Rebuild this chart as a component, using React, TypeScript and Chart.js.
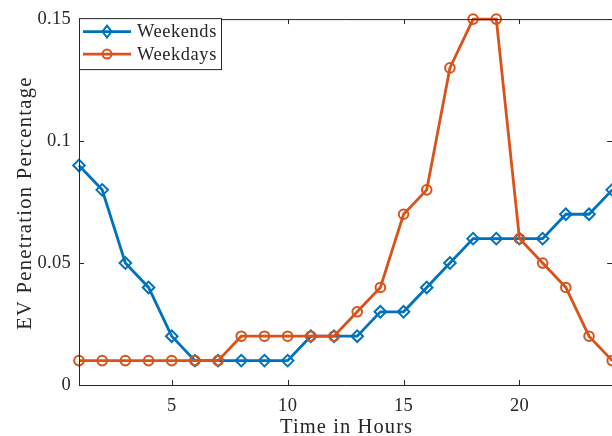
import React, { useEffect, useRef } from "react";
import { Chart, registerables } from "chart.js";

Chart.register(...registerables);

const hours = [1, 2, 3, 4, 5, 6, 7, 8, 9, 10, 11, 12, 13, 14, 15, 16, 17, 18, 19, 20, 21, 22, 23, 24];
const weekends = [0.09, 0.08, 0.05, 0.04, 0.02, 0.01, 0.01, 0.01, 0.01, 0.01, 0.02, 0.02, 0.02, 0.03, 0.03, 0.04, 0.05, 0.06, 0.06, 0.06, 0.06, 0.07, 0.07, 0.08];
const weekdays = [0.01, 0.01, 0.01, 0.01, 0.01, 0.01, 0.01, 0.02, 0.02, 0.02, 0.02, 0.02, 0.03, 0.04, 0.07, 0.08, 0.13, 0.15, 0.15, 0.06, 0.05, 0.04, 0.02, 0.01];
const xTicks = [5, 10, 15, 20];
const yTicks = [0, 0.05, 0.1, 0.15];
const yTickLabels = ["0", "0.05", "0.1", "0.15"];
const seriesNames = ["Weekends", "Weekdays"];
const xTitle = "Time in Hours";
const yTitle = "EV Penetration Percentage";

const BLUE = "#0072BD";
const ORANGE = "#D95319";
const AXIS = "#262626";
const FONT = "'Liberation Serif', 'Times New Roman', serif";
const LINE_W = 2.8;

const boxPlugin = {
  id: "matlabBox",
  beforeDraw(chart: any) {
    (chart.ctx as any).letterSpacing = "0.3px";
  },
  afterDraw(chart: any) {
    const { ctx, chartArea } = chart;
    const { left, right, top, bottom } = chartArea;
    const xs = chart.scales.x;
    const ys = chart.scales.y;
    ctx.save();
    ctx.strokeStyle = AXIS;
    ctx.lineWidth = 1;
    ctx.beginPath();
    ctx.moveTo(left + 0.5, top + 0.5);
    ctx.lineTo(right, top + 0.5);
    ctx.moveTo(left + 0.5, bottom + 0.5);
    ctx.lineTo(right, bottom + 0.5);
    ctx.moveTo(left + 0.5, top);
    ctx.lineTo(left + 0.5, bottom + 1);
    ctx.moveTo(right + 0.5, top);
    ctx.lineTo(right + 0.5, bottom + 1);
    const tl = 5;
    xTicks.forEach((v) => {
      const px = Math.round(xs.getPixelForValue(v)) + 0.5;
      ctx.moveTo(px, bottom);
      ctx.lineTo(px, bottom - tl);
      ctx.moveTo(px, top);
      ctx.lineTo(px, top + tl);
    });
    yTicks.forEach((v) => {
      const py = Math.round(ys.getPixelForValue(v)) + 0.5;
      ctx.moveTo(left, py);
      ctx.lineTo(left + tl, py);
      ctx.moveTo(right, py);
      ctx.lineTo(right - tl, py);
    });
    ctx.stroke();

    // axis titles
    ctx.fillStyle = AXIS;
    (ctx as any).letterSpacing = "1.1px";
    ctx.font = `20.5px ${FONT}`;
    ctx.textAlign = "center";
    ctx.textBaseline = "alphabetic";
    ctx.fillText(xTitle, (left + right) / 2 + 1, 433);
    ctx.save();
    ctx.translate(31, (top + bottom) / 2 + 1);
    ctx.rotate(-Math.PI / 2);
    (ctx as any).letterSpacing = "1.3px";
    ctx.fillText(yTitle, 0, 0);
    ctx.restore();

    // legend
    const lx = left;
    const ly = top - 1;
    const lw = 142;
    const lh = 51;
    ctx.fillStyle = "#ffffff";
    ctx.fillRect(lx, ly, lw, lh);
    ctx.strokeStyle = AXIS;
    ctx.lineWidth = 1;
    ctx.strokeRect(lx + 0.5, ly + 0.5, lw, lh);
    const rows = [
      { name: seriesNames[0], color: BLUE, style: "diamond", y: ly + 13.5 },
      { name: seriesNames[1], color: ORANGE, style: "circle", y: ly + 36 },
    ];
    rows.forEach((r) => {
      ctx.strokeStyle = r.color;
      ctx.lineWidth = LINE_W;
      ctx.beginPath();
      ctx.moveTo(lx + 4, r.y);
      ctx.lineTo(lx + 52, r.y);
      ctx.stroke();
      const cx = lx + 28;
      ctx.lineWidth = 2;
      ctx.beginPath();
      if (r.style === "diamond") {
        ctx.moveTo(cx, r.y - 6);
        ctx.lineTo(cx + 4.5, r.y);
        ctx.lineTo(cx, r.y + 6);
        ctx.lineTo(cx - 4.5, r.y);
        ctx.closePath();
      } else {
        ctx.arc(cx, r.y, 4.5, 0, Math.PI * 2);
      }
      ctx.stroke();
      ctx.fillStyle = AXIS;
      (ctx as any).letterSpacing = "0.6px";
      ctx.font = `18.4px ${FONT}`;
      ctx.textBaseline = "middle";
      ctx.textAlign = "left";
      ctx.fillText(r.name, lx + 58, r.y + 1);
    });
    ctx.restore();
  },
};

export default function App() {
  const ref = useRef<HTMLCanvasElement | null>(null);
  useEffect(() => {
    if (!ref.current) return;
    const chart = new Chart(ref.current, {
      type: "line",
      data: {
        labels: hours,
        datasets: [
          {
            label: seriesNames[1],
            data: hours.map((h, i) => ({ x: h, y: weekdays[i] })),
            borderColor: ORANGE,
            backgroundColor: "rgba(0,0,0,0)",
            borderWidth: LINE_W,
            pointStyle: "circle",
            pointRadius: 4.8,
            pointBorderWidth: 2,
            pointBorderColor: ORANGE,
            pointBackgroundColor: "rgba(0,0,0,0)",
            tension: 0,
            clip: false as any,
          },
          {
            label: seriesNames[0],
            data: hours.map((h, i) => ({ x: h, y: weekends[i] })),
            borderColor: BLUE,
            backgroundColor: "rgba(0,0,0,0)",
            borderWidth: LINE_W,
            pointStyle: "rectRot",
            pointRadius: 5.8,
            pointBorderWidth: 2,
            pointBorderColor: BLUE,
            pointBackgroundColor: "rgba(0,0,0,0)",
            tension: 0,
            clip: false as any,
          },
        ],
      },
      options: {
        animation: false,
        responsive: false,
        devicePixelRatio: 1,
        layout: { padding: { top: 18, right: 7, left: 0, bottom: 0 } },
        plugins: {
          legend: { display: false },
          tooltip: { enabled: false },
        },
        scales: {
          x: {
            type: "linear",
            min: 1,
            max: 24,
            grid: { display: false, drawTicks: false, tickLength: 0 },
            border: { display: false },
            afterBuildTicks: (s: any) => {
              s.ticks = xTicks.map((v) => ({ value: v }));
            },
            afterFit: (s: any) => {
              s.height = 51;
            },
            ticks: {
              color: AXIS,
              font: { family: FONT, size: 18.5 },
              padding: 10,
              maxRotation: 0,
              autoSkip: false,
            },
            title: { display: false },
          },
          y: {
            type: "linear",
            min: 0,
            max: 0.15,
            grid: { display: false, drawTicks: false, tickLength: 0 },
            border: { display: false },
            afterBuildTicks: (s: any) => {
              s.ticks = yTicks.map((v) => ({ value: v }));
            },
            afterFit: (s: any) => {
              s.width = 79;
            },
            ticks: {
              color: AXIS,
              font: { family: FONT, size: 18.5 },
              padding: 8,
              autoSkip: false,
              callback: (v: any) => {
                const i = yTicks.findIndex((t) => Math.abs(t - v) < 1e-9);
                return i >= 0 ? yTickLabels[i] : "";
              },
            },
            title: { display: false },
          },
        },
      },
      plugins: [boxPlugin],
    });
    return () => chart.destroy();
  }, []);
  return (
    <div style={{ position: "fixed", left: 0, top: 0, width: 620, height: 436, background: "#fff" }}>
      <canvas ref={ref} width={620} height={436} style={{ display: "block", width: 620, height: 436 }} />
    </div>
  );
}
